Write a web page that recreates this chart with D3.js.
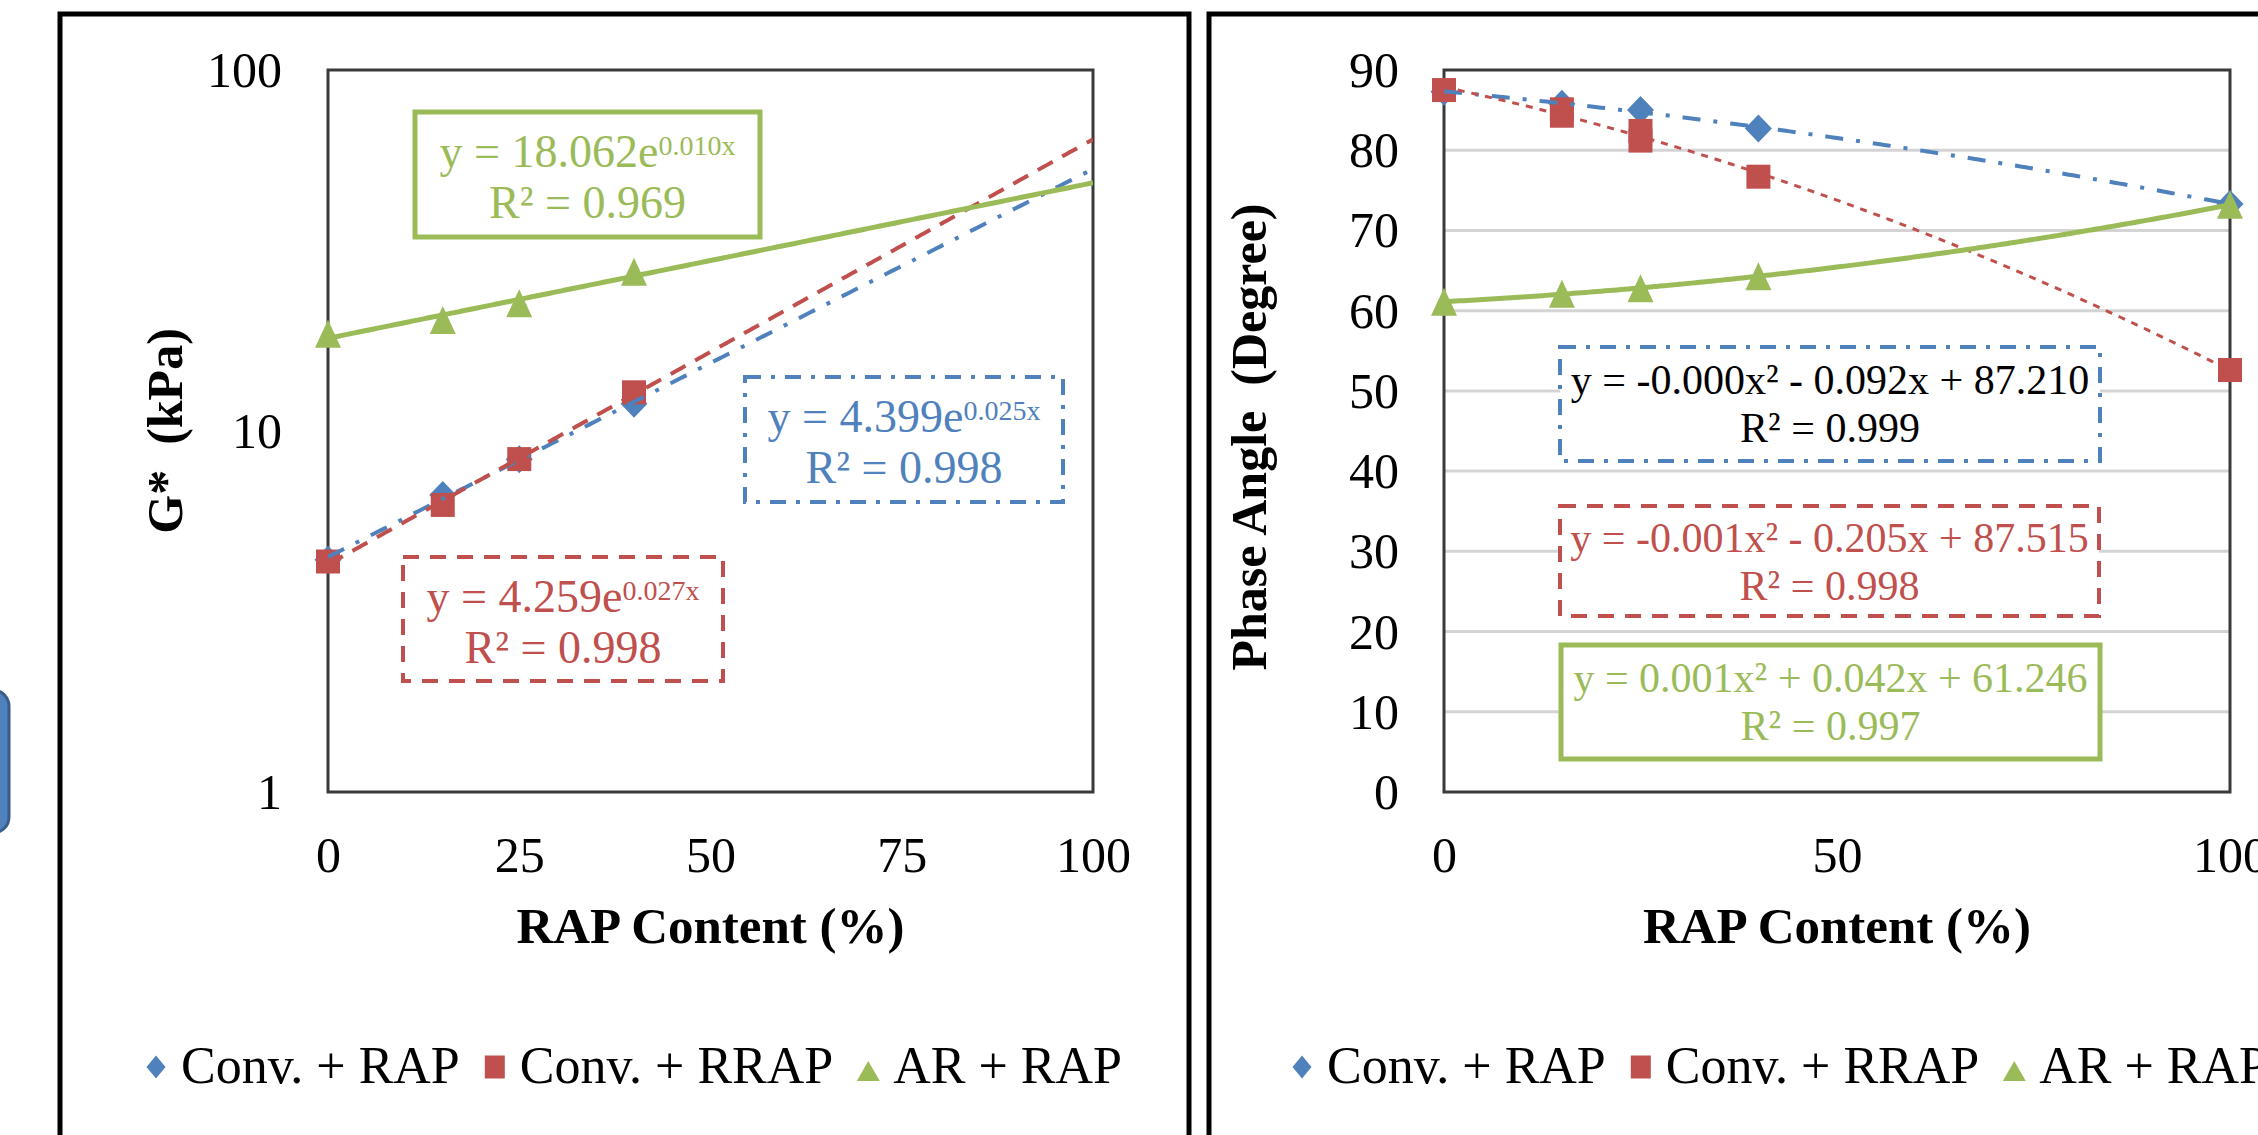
<!DOCTYPE html>
<html><head><meta charset="utf-8">
<script src="https://cdn.jsdelivr.net/npm/d3@7"></script>
<style>html,body{margin:0;padding:0;background:#fff;overflow:hidden}</style>
</head><body>
<svg id="c" width="2258" height="1135" xmlns="http://www.w3.org/2000/svg"></svg>
<script>
// ---------------- DATA ----------------
const seriesNames = ["Conv. + RAP", "Conv. + RRAP", "AR + RAP"];
const seriesColors = ["#4f81bd", "#c0504d", "#9bbb59"];
const seriesMarkers = ["diamond", "square", "triangle"];

// Left chart: G* (kPa), log scale
const gStarX = [0, 15, 25, 40];
const gStarConvRAP = [4.4, 6.65, 8.35, 11.9];
const gStarConvRRAP = [4.35, 6.24, 8.36, 12.8];
const gStarARRAP = [18.6, 20.3, 22.6, 27.6];
const gStarXTicks = [0, 25, 50, 75, 100];
const gStarYTicks = [1, 10, 100];
const gStarEqMain = ["y = 4.399e", "y = 4.259e", "y = 18.062e"];
const gStarEqExp = ["0.025x", "0.027x", "0.010x"];
const gStarEqR2 = ["R² = 0.998", "R² = 0.998", "R² = 0.969"];

// Right chart: Phase angle (degree)
const phaseX = [0, 15, 25, 40, 100];
const phaseConvRAP = [87.3, 85.8, 85.0, 82.7, 73.3];
const phaseRRAPX = [0, 15, 15, 25, 25, 40, 100];
const phaseConvRRAP = [87.5, 85.1, 84.3, 82.4, 81.2, 76.7, 52.6];
const phaseARRAP = [61.1, 62.1, 62.8, 64.3, 73.2];
const phaseXTicks = [0, 50, 100];
const phaseYTicks = [0, 10, 20, 30, 40, 50, 60, 70, 80, 90];
const phaseEq = ["y = -0.000x² - 0.092x + 87.210", "y = -0.001x² - 0.205x + 87.515", "y = 0.001x² + 0.042x + 61.246"];
const phaseEqR2 = ["R² = 0.999", "R² = 0.998", "R² = 0.997"];

const xTitle = "RAP Content (%)";
const gStarYTitle = "G*  (kPa)";
const phaseYTitle = "Phase Angle  (Degree)";

// ---------------- HELPERS ----------------
const FONT = "'Liberation Serif','Times New Roman',serif";
const svg = d3.select("#c");

function expFit(xs, ys) {
  const ly = ys.map(Math.log);
  const mx = d3.mean(xs), my = d3.mean(ly);
  let sxy = 0, sxx = 0;
  xs.forEach((x, i) => { sxy += (x - mx) * (ly[i] - my); sxx += (x - mx) * (x - mx); });
  const b = sxy / sxx, a = Math.exp(my - b * mx);
  return x => a * Math.exp(b * x);
}
function quadFit(xs, ys) {
  const S = k => d3.sum(xs, x => Math.pow(x, k));
  const T = k => d3.sum(xs, (x, i) => Math.pow(x, k) * ys[i]);
  const M = [[S(0), S(1), S(2), T(0)], [S(1), S(2), S(3), T(1)], [S(2), S(3), S(4), T(2)]];
  for (let i = 0; i < 3; i++) {
    for (let j = i + 1; j < 3; j++) {
      const f = M[j][i] / M[i][i];
      for (let k = i; k < 4; k++) M[j][k] -= f * M[i][k];
    }
  }
  const c = [0, 0, 0];
  for (let i = 2; i >= 0; i--) {
    let s = M[i][3];
    for (let k = i + 1; k < 3; k++) s -= M[i][k] * c[k];
    c[i] = s / M[i][i];
  }
  return x => c[0] + c[1] * x + c[2] * x * x;
}
function marker(g, type, cx, cy, s, color) {
  if (type === "square") {
    g.append("rect").attr("x", cx - s.w / 2).attr("y", cy - s.h / 2)
      .attr("width", s.w).attr("height", s.h).attr("fill", color);
  } else if (type === "diamond") {
    g.append("path").attr("d", `M${cx},${cy - s.h / 2}L${cx + s.w / 2},${cy}L${cx},${cy + s.h / 2}L${cx - s.w / 2},${cy}Z`).attr("fill", color);
  } else {
    g.append("path").attr("d", `M${cx},${cy - s.h / 2}L${cx + s.w / 2},${cy + s.h / 2}L${cx - s.w / 2},${cy + s.h / 2}Z`).attr("fill", color);
  }
}
const dataMarkerSize = { diamond: { w: 27, h: 28 }, square: { w: 24, h: 24 }, triangle: { w: 26, h: 28 } };
const legendMarkerSize = { diamond: { w: 19, h: 23 }, square: { w: 20, h: 23 }, triangle: { w: 23, h: 20 } };
const trendStyles = {
  left: [{ w: 4, d: "18,13,4,13" }, { w: 4, d: "17,11" }, { w: 5, d: null }],
  right: [{ w: 4, d: "18,13,4,13" }, { w: 3, d: "7,7" }, { w: 5, d: null }]
};
const boxDash = ["16,10,4,10", "16,11", null];

// outer panel frames & decoration
svg.append("rect").attr("x", -100).attr("y", 690).attr("width", 109).attr("height", 143)
  .attr("rx", 16).attr("fill", "#4f81bd").attr("stroke", "#385d8a").attr("stroke-width", 3);
svg.append("rect").attr("x", 60).attr("y", 14).attr("width", 1129).attr("height", 1300)
  .attr("fill", "#fff").attr("stroke", "#000").attr("stroke-width", 5);
svg.append("rect").attr("x", 1209).attr("y", 14).attr("width", 1300).attr("height", 1300)
  .attr("fill", "#fff").attr("stroke", "#000").attr("stroke-width", 5);

function drawPanel(cfg) {
  const g = svg.append("g");
  const { x, y, plot } = cfg;
  const clipId = "clip" + cfg.id;
  g.append("clipPath").attr("id", clipId).append("rect")
    .attr("x", plot.x0).attr("y", plot.y0).attr("width", plot.x1 - plot.x0).attr("height", plot.y1 - plot.y0);

  if (cfg.grid) {
    g.append("g").selectAll("line").data(cfg.grid).join("line")
      .attr("x1", plot.x0).attr("x2", plot.x1).attr("y1", d => y(d)).attr("y2", d => y(d))
      .attr("stroke", "#d4d4d4").attr("stroke-width", 3);
  }
  const ax = g.append("g").attr("transform", `translate(0,${plot.y1})`)
    .call(d3.axisBottom(x).tickValues(cfg.xTicks).tickSize(0).tickPadding(44).tickFormat(d3.format("d")));
  const ay = g.append("g").attr("transform", `translate(${plot.x0},0)`)
    .call(d3.axisLeft(y).tickValues(cfg.yTicks).tickSize(0).tickPadding(cfg.yPad).tickFormat(d3.format("d")));
  [ax, ay].forEach(a => {
    a.select(".domain").remove();
    a.selectAll("text").attr("font-family", FONT).attr("font-size", 50).attr("fill", "#000");
  });
  ay.selectAll("text").attr("dy", "0.33em");

  cfg.boxes.forEach((b, i) => {
    const bg = g.append("g");
    bg.append("rect").attr("x", b.x).attr("y", b.y).attr("width", b.w).attr("height", b.h)
      .attr("fill", "#fff").attr("stroke", seriesColors[i]).attr("stroke-width", i === 2 ? 5 : 4)
      .attr("stroke-dasharray", boxDash[i]);
    const cx = b.x + b.w / 2;
    const t1 = bg.append("text").attr("x", cx).attr("y", b.y + b.l1).attr("text-anchor", "middle")
      .attr("font-family", FONT).attr("font-size", b.fs).attr("fill", b.color || seriesColors[i])
      .attr("xml:space", "preserve");
    t1.append("tspan").text(b.main);
    if (b.exp) t1.append("tspan").attr("font-size", 28).attr("dy", -12).text(b.exp);
    bg.append("text").attr("x", cx).attr("y", b.y + b.l2).attr("text-anchor", "middle")
      .attr("font-family", FONT).attr("font-size", b.fs).attr("fill", b.color || seriesColors[i])
      .text(b.r2);
  });

  g.append("rect").attr("x", plot.x0).attr("y", plot.y0).attr("width", plot.x1 - plot.x0)
    .attr("height", plot.y1 - plot.y0).attr("fill", "none").attr("stroke", "#3a3a3a").attr("stroke-width", 3);

  cfg.series.forEach((s, i) => {
    const mg = g.append("g");
    s.xs.forEach((xv, j) => marker(mg, seriesMarkers[i], x(xv), y(s.ys[j]), dataMarkerSize[seriesMarkers[i]], seriesColors[i]));
  });
  const samples = d3.range(0, 100.01, 0.5);
  cfg.series.forEach((s, i) => {
    const f = cfg.fit(s.xs, s.ys);
    const st = cfg.trend[i];
    g.append("path").datum(samples).attr("clip-path", `url(#${clipId})`)
      .attr("d", d3.line().x(d => x(d)).y(d => y(f(d))))
      .attr("fill", "none").attr("stroke", seriesColors[i]).attr("stroke-width", st.w)
      .attr("stroke-dasharray", st.d);
  });

  g.append("text").attr("x", (plot.x0 + plot.x1) / 2).attr("y", 943).attr("text-anchor", "middle")
    .attr("font-family", FONT).attr("font-size", 51).attr("font-weight", "bold").text(xTitle);
  g.append("text").attr("transform", `translate(${cfg.yTitleX},${cfg.yTitleY}) rotate(-90)`)
    .attr("text-anchor", "middle").attr("xml:space", "preserve")
    .attr("font-family", FONT).attr("font-size", 50).attr("font-weight", "bold").text(cfg.yTitle);

  let lx = cfg.legendX;
  const ly = 1083;
  seriesNames.forEach((name, i) => {
    const ms = legendMarkerSize[seriesMarkers[i]];
    marker(g, seriesMarkers[i], lx, i === 2 ? 1071 : 1067, ms, seriesColors[i]);
    const t = g.append("text").attr("x", lx + 25).attr("y", ly).attr("font-family", FONT)
      .attr("font-size", 52).attr("fill", "#000").text(name);
    const w = t.node().getComputedTextLength();
    lx = lx + 25 + w + 35;
  });
}

// LEFT
drawPanel({
  id: "L",
  plot: { x0: 328, x1: 1093, y0: 70, y1: 792 },
  x: d3.scaleLinear([0, 100], [328, 1093]),
  y: d3.scaleLog([1, 100], [792, 70]),
  xTicks: gStarXTicks, yTicks: gStarYTicks, yPad: 46,
  grid: null,
  series: [
    { xs: gStarX, ys: gStarConvRAP },
    { xs: gStarX, ys: gStarConvRRAP },
    { xs: gStarX, ys: gStarARRAP }
  ],
  fit: expFit,
  trend: trendStyles.left,
  boxes: [
    { x: 745, y: 377, w: 318, h: 125, l1: 55, l2: 106, fs: 46, main: gStarEqMain[0], exp: gStarEqExp[0], r2: gStarEqR2[0] },
    { x: 403, y: 557, w: 320, h: 124, l1: 55, l2: 106, fs: 46, main: gStarEqMain[1], exp: gStarEqExp[1], r2: gStarEqR2[1] },
    { x: 415, y: 112, w: 345, h: 125, l1: 55, l2: 106, fs: 46, main: gStarEqMain[2], exp: gStarEqExp[2], r2: gStarEqR2[2] }
  ],
  yTitle: gStarYTitle, yTitleX: 182, yTitleY: 431,
  legendX: 156
});

// RIGHT
drawPanel({
  id: "R",
  plot: { x0: 1444, x1: 2230, y0: 70, y1: 792 },
  x: d3.scaleLinear([0, 100], [1444, 2230]),
  y: d3.scaleLinear([0, 90], [792, 70]),
  xTicks: phaseXTicks, yTicks: phaseYTicks, yPad: 45,
  grid: phaseYTicks.slice(1, -1),
  series: [
    { xs: phaseX, ys: phaseConvRAP },
    { xs: phaseRRAPX, ys: phaseConvRRAP },
    { xs: phaseX, ys: phaseARRAP }
  ],
  fit: quadFit,
  trend: trendStyles.right,
  boxes: [
    { x: 1560, y: 347, w: 540, h: 114, l1: 47, l2: 95, fs: 42, main: phaseEq[0], r2: phaseEqR2[0], color: "#000" },
    { x: 1560, y: 506, w: 539, h: 110, l1: 46, l2: 94, fs: 42, main: phaseEq[1], r2: phaseEqR2[1] },
    { x: 1561, y: 645, w: 539, h: 114, l1: 47, l2: 95, fs: 42, main: phaseEq[2], r2: phaseEqR2[2] }
  ],
  yTitle: phaseYTitle, yTitleX: 1266, yTitleY: 437,
  legendX: 1302
});
</script>
</body></html>
